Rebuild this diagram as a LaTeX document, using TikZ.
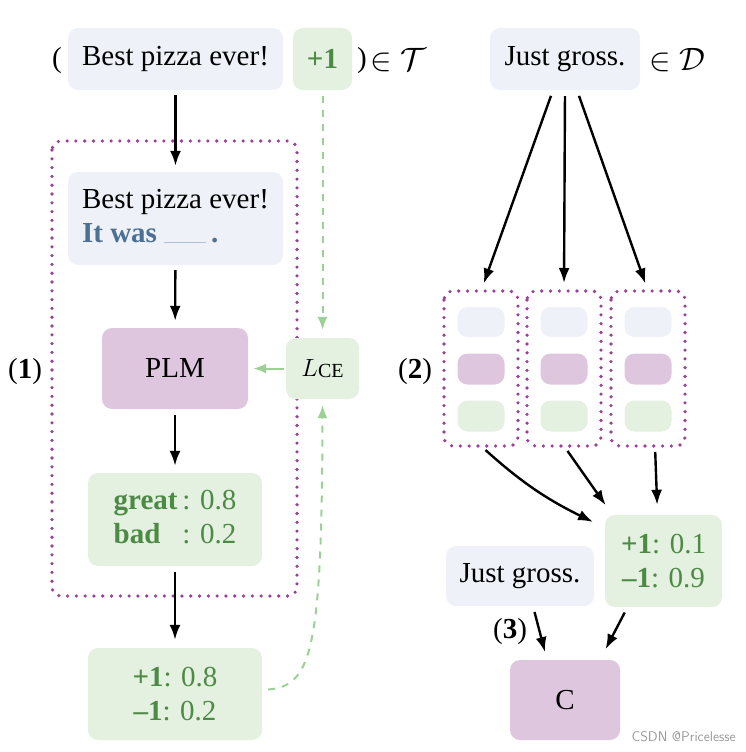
\documentclass[tikz,border=0pt]{standalone}
\usepackage{fontspec}
\usepackage{graphicx}
\setmainfont{Liberation Serif}
\usetikzlibrary{arrows.meta,calc}
\definecolor{boxblue}{HTML}{EEF2F8}
\definecolor{boxpurple}{HTML}{DFC6DF}
\definecolor{boxgreen}{HTML}{E4F0E0}
\definecolor{txtgreen}{HTML}{4C8A45}
\definecolor{txtblue}{HTML}{4B7094}
\definecolor{dotpurple}{HTML}{9A3F9A}
\definecolor{dashgreen}{HTML}{9CD196}
\definecolor{blankline}{HTML}{AFC0D4}
\begin{document}
\begin{tikzpicture}[x=1pt,y=-1pt,
  every node/.style={font=\fontsize{29}{37}\selectfont},
  bx/.style={rounded corners=10pt, inner sep=0pt, align=center},
  bluebox/.style={bx, fill=boxblue},
  purplebox/.style={bx, fill=boxpurple},
  greenbox/.style={bx, fill=boxgreen, text=txtgreen},
  dotbox/.style={draw=dotpurple, line width=3.6pt, dash pattern=on 0pt off 8.8pt, line cap=round, rounded corners=9pt},
  blk/.style={line width=2.4pt, -{Latex[length=15pt,width=11pt]}},
  grn/.style={line width=2pt, draw=dashgreen, dash pattern=on 7pt off 7pt, -{Latex[length=13pt,width=10pt]}, color=dashgreen},
  lbl/.style={inner sep=0pt}
]
\useasboundingbox (0,0) rectangle (746,752);
% ---------- left part ----------
\node[lbl] (lp) at (57,61) {(};
\node[bluebox, minimum width=215pt, minimum height=62pt] (inp) at (175.5,59) {Best pizza ever!};
\node[greenbox, minimum width=59pt, minimum height=62pt] (lab) at (322.5,59) {\textbf{+1}};
\node[lbl, anchor=west] (rp) at (357,61) {)};
\node[lbl, anchor=west] (inT) at (370,60) {\scalebox{1.3}{$\in\mathcal{T}$}};

\draw[dotbox] (52,141) rectangle (297,596);
\node[lbl] (l1) at (25,372) {(\textbf{1})};

\node[bluebox, minimum width=215pt, minimum height=93pt] (tmpl) at (175.5,218.5)
  {\begin{tabular}{@{}l@{}}Best pizza ever!\\[-3pt]\textcolor{txtblue}{\textbf{It was} \textcolor{blankline}{\rule[0pt]{42pt}{1.3pt}}\,\textbf{.}}\end{tabular}};
\node[purplebox, minimum width=146pt, minimum height=81pt] (plm) at (175,368.5) {PLM};
\node[greenbox, minimum width=73pt, minimum height=61pt, text=black] (lce) at (322.5,368.5) {$L$\raisebox{-1pt}{\fontsize{20}{20}\selectfont CE}};
\node[greenbox, minimum width=174pt, minimum height=93pt] (wd) at (175,519.5)
  {\begin{tabular}{@{}l@{\,}l@{}}\textbf{great} & : 0.8\\[-3pt] \textbf{bad} & : 0.2\end{tabular}};
\node[greenbox, minimum width=174pt, minimum height=92pt] (out) at (175,694)
  {\textbf{+1}: 0.8\\[-3pt]\textbf{–1}: 0.2};

\draw[blk, shorten <=5pt, shorten >=6pt] (inp) -- (tmpl);
\draw[blk, shorten <=5pt, shorten >=7pt] (tmpl) -- (plm);
\draw[blk, shorten <=6pt, shorten >=7pt] (plm) -- (wd);
\draw[blk, shorten <=6pt, shorten >=8pt] (wd) -- (out);
\draw[grn, dash pattern=, shorten <=2pt, shorten >=5pt] (lce) -- (plm);
\draw[grn, shorten <=6pt, shorten >=8pt] (lab) -- (lce);
\draw[grn, shorten <=6pt, shorten >=6pt] ($(out.east)+(0,-4)$) .. controls (312,686) and (322,650) .. (lce.south);

% ---------- right part ----------
\node[bluebox, minimum width=150pt, minimum height=62pt] (jg) at (565,59) {Just gross.};
\node[lbl, anchor=west] (inD) at (649,60) {\scalebox{1.3}{$\in\mathcal{D}$}};
\node[lbl] (l2) at (415,372) {(\textbf{2})};

\foreach \i/\cx in {1/481, 2/564, 3/648}{
  \draw[dotbox] (\cx-37,291) rectangle (\cx+37,446);
  \coordinate (col\i top) at (\cx,291);
  \coordinate (col\i bot) at (\cx,446);
  \node[bx, fill=boxblue, minimum width=47pt, minimum height=30pt] (sb\i) at (\cx,322) {};
  \node[bx, fill=boxpurple, minimum width=47pt, minimum height=31pt] (sp\i) at (\cx,369) {};
  \node[bx, fill=boxgreen, minimum width=47pt, minimum height=31pt] (sg\i) at (\cx,416) {};
}
\draw[blk, shorten <=6pt, shorten >=8pt] ($(jg.south)+(-12,0)$) -- (col1top);
\draw[blk, shorten <=6pt, shorten >=8pt] (jg.south) -- (col2top);
\draw[blk, shorten <=6pt, shorten >=8pt] ($(jg.south)+(12,0)$) -- (col3top);

\node[greenbox, minimum width=117pt, minimum height=92pt] (res) at (663.5,561)
  {\textbf{+1}: 0.1\\[-3pt]\textbf{–1}: 0.9};
\node[bluebox, minimum width=148pt, minimum height=60pt] (jg2) at (520,576) {Just gross.};
\node[purplebox, minimum width=110pt, minimum height=80pt] (cc) at (565,700) {C};
\node[lbl] (l3) at (510,632) {(\textbf{3})};

\draw[blk, shorten <=6pt, shorten >=2pt] (col1bot) to[bend right=8] ($(res.north west)+(-10,8)$);
\draw[blk, shorten <=6pt, shorten >=2pt] (col2bot) -- ($(res.north west)+(2,-8)$);
\draw[blk, shorten <=6pt, shorten >=10pt] ($(col3bot)+(7,0)$) -- ($(res.north)+(-6,0)$);
\draw[blk, shorten <=6pt, shorten >=8pt] ($(jg2.south)+(13,0)$) -- ($(cc.north)+(-18,0)$);
\draw[blk, shorten <=6pt, shorten >=12pt] ($(res.south)+(-36,0)$) -- ($(cc.north)+(35,0)$);

\node[lbl, anchor=east, text=gray!80, font=\fontsize{14}{14}\sffamily] (wm) at (736,737) {CSDN @Pricelesse};
\end{tikzpicture}
\end{document}
